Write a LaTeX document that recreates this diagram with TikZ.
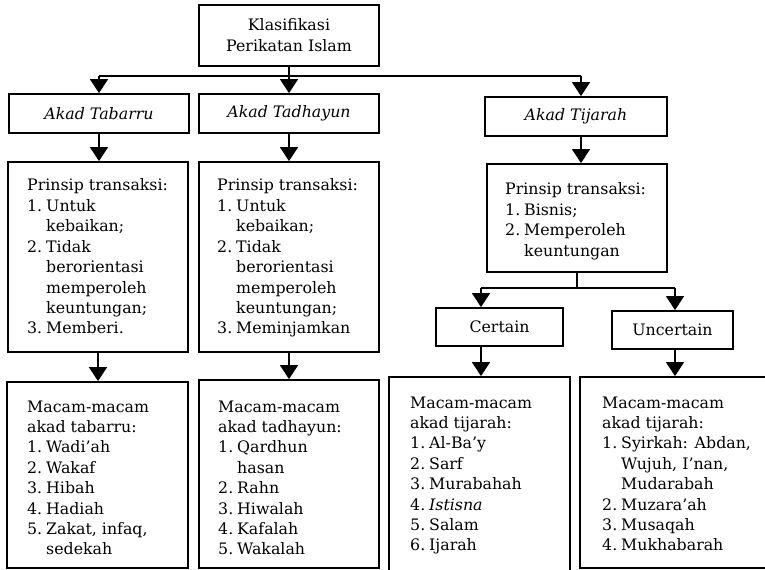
\documentclass[tikz,border=0pt]{standalone}
\usepackage{fontspec}
\setmainfont{DejaVu Serif}
\usetikzlibrary{arrows.meta}
% list entry number in a fixed-width slot (hanging indent)
\newcommand\itemno[1]{\makebox[19bp][l]{#1}}
\newcommand\head[1]{\multicolumn{2}{@{}l@{}}{#1}}
\begin{document}
\begin{tikzpicture}[x=1bp,y=-1bp,
  txt/.style={font=\fontsize{15.8bp}{20.4bp}\selectfont},
  box/.style={draw, line width=1.8bp, inner sep=0pt, txt},
  listtext/.style={anchor=base west, inner sep=0pt, txt},
  conn/.style={line width=1.5bp},
  arr/.style={conn, -{Triangle[width=18bp,length=14bp]}}]
\useasboundingbox (0,0) rectangle (765,570);

% ---- boxes ----
\node[box, align=center, minimum width=180bp, minimum height=61bp,
      font=\fontsize{15.8bp}{21bp}\selectfont] (top) at (289,35.5)
  {Klasifikasi\\Perikatan Islam};

\node[box, minimum width=180bp, minimum height=39bp] (tab) at (99,113.5) {\itshape Akad Tabarru};
\node[box, minimum width=180bp, minimum height=39bp] (tad) at (289,113.5) {\itshape Akad Tadhayun};
\node[box, minimum width=182bp, minimum height=39bp] (tij) at (576,116.5) {\itshape Akad Tijarah};

\node[box, minimum width=180bp, minimum height=190bp] (p1) at (98,257) {};
\node[box, minimum width=180bp, minimum height=190bp] (p2) at (289,257) {};
\node[box, minimum width=180bp, minimum height=108bp] (p3) at (577,218) {};

\node[box, minimum width=127bp, minimum height=38bp] (cert) at (499.5,327) {Certain};
\node[box, minimum width=121bp, minimum height=38bp] (unc) at (672.5,330) {Uncertain};

\node[box, minimum width=181bp, minimum height=186bp] (b1) at (97.5,475) {};
\node[box, minimum width=180bp, minimum height=188bp] (b2) at (289,474) {};
\node[box, minimum width=181bp, minimum height=198bp] (b3) at (479.5,476) {};
\node[box, minimum width=187bp, minimum height=191bp] (b4) at (673.5,472.5) {};

% ---- box contents ----
\node[listtext] (p1t) at (27,191) {\begin{tabular}[t]{@{}l@{}l@{}}
  \head{Prinsip transaksi:}\\
  \itemno{1.}&Untuk\\ &kebaikan;\\
  \itemno{2.}&Tidak\\ &berorientasi\\ &memperoleh\\ &keuntungan;\\
  \itemno{3.}&Memberi.
\end{tabular}};

\node[listtext] (p2t) at (217,191) {\begin{tabular}[t]{@{}l@{}l@{}}
  \head{Prinsip transaksi:}\\
  \itemno{1.}&Untuk\\ &kebaikan;\\
  \itemno{2.}&Tidak\\ &berorientasi\\ &memperoleh\\ &keuntungan;\\
  \itemno{3.}&Meminjamkan
\end{tabular}};

\node[listtext] (p3t) at (505,195) {\begin{tabular}[t]{@{}l@{}l@{}}
  \head{Prinsip transaksi:}\\
  \itemno{1.}&Bisnis;\\
  \itemno{2.}&Memperoleh\\ &keuntungan
\end{tabular}};

\node[listtext] (b1t) at (27,412) {\begin{tabular}[t]{@{}l@{}l@{}}
  \head{Macam-macam}\\ \head{akad tabarru:}\\
  \itemno{1.}&Wadi’ah\\
  \itemno{2.}&Wakaf\\
  \itemno{3.}&Hibah\\
  \itemno{4.}&Hadiah\\
  \itemno{5.}&Zakat, infaq,\\ &sedekah
\end{tabular}};

\node[listtext] (b2t) at (218,412) {\begin{tabular}[t]{@{}l@{}l@{}}
  \head{Macam-macam}\\ \head{akad tadhayun:}\\
  \itemno{1.}&Qardhun\\ &hasan\\
  \itemno{2.}&Rahn\\
  \itemno{3.}&Hiwalah\\
  \itemno{4.}&Kafalah\\
  \itemno{5.}&Wakalah
\end{tabular}};

\node[listtext] (b3t) at (410,408) {\begin{tabular}[t]{@{}l@{}l@{}}
  \head{Macam-macam}\\ \head{akad tijarah:}\\
  \itemno{1.}&Al-Ba’y\\
  \itemno{2.}&Sarf\\
  \itemno{3.}&Murabahah\\
  \itemno{4.}&\textit{Istisna}\\
  \itemno{5.}&Salam\\
  \itemno{6.}&Ijarah
\end{tabular}};

\node[listtext] (b4t) at (602,408) {\begin{tabular}[t]{@{}l@{}l@{}}
  \head{Macam-macam}\\ \head{akad tijarah:}\\
  \itemno{1.}&Syirkah: Abdan,\\ &Wujuh, I’nan,\\ &Mudarabah\\
  \itemno{2.}&Muzara’ah\\
  \itemno{3.}&Musaqah\\
  \itemno{4.}&Mukhabarah
\end{tabular}};

% ---- connectors ----
\coordinate (bus) at (0,76);
\coordinate (busR) at (581,76);
\coordinate (sL) at (481,288);
\coordinate (sR) at (675,288);

\draw[conn] (top.south) -- (top.south |- bus);
\draw[conn] (tab.north |- bus) -- (busR);
\draw[arr] (tab.north |- bus) -- (tab.north);
\draw[arr] (top.south |- bus) -- (tad.north);
\draw[arr] (busR) -- (busR |- tij.north);

\draw[arr] (tab.south) -- (tab.south |- p1.north);
\draw[arr] (tad.south) -- (tad.south |- p2.north);
\draw[arr] (busR |- tij.south) -- (busR |- p3.north);

\draw[conn] (p3.south) -- (p3.south |- sL);
\draw[conn] (sL) -- (sR);
\draw[arr] (sL) -- (sL |- cert.north);
\draw[arr] (sR) -- (sR |- unc.north);

\draw[arr] (p1.south) -- (p1.south |- b1.north);
\draw[arr] (p2.south) -- (p2.south |- b2.north);
\draw[arr] (sL |- cert.south) -- (sL |- b3.north);
\draw[arr] (sR |- unc.south) -- (sR |- b4.north);
\end{tikzpicture}
\end{document}
